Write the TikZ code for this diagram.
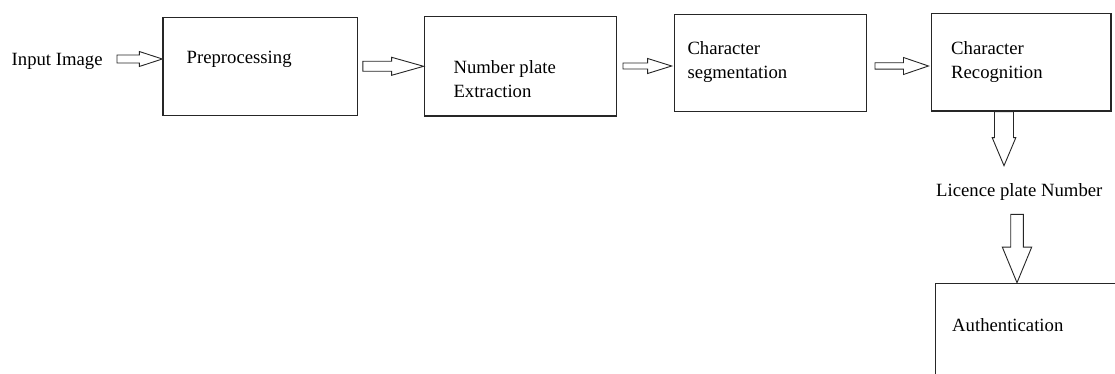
\documentclass[tikz,border=0pt]{standalone}
\usepackage{fontspec}
\setmainfont{Liberation Serif}
\usetikzlibrary{calc}
\tikzset{
  box/.style={draw=black!85, line width=1.3pt, minimum width=#1, inner sep=0pt},
  lbl/.style={anchor=base west, inner sep=0pt, font=\fontsize{18.7}{24}\selectfont},
  blk/.style={draw=black!85, line width=0.9pt, fill=white, line join=miter},
}
% horizontal hollow block arrow: start, tip, shaft half, head half, head length
\newcommand\harrow[5]{%
  \draw[blk] ($(#1)+(0,#3)$) -- ($(#2)+(-#5,#3)$) -- ($(#2)+(-#5,#4)$) -- (#2)
    -- ($(#2)+(-#5,-#4)$) -- ($(#2)+(-#5,-#3)$) -- ($(#1)+(0,-#3)$) -- cycle;}
% downward hollow block arrow (y axis points down)
\newcommand\varrow[5]{%
  \draw[blk] ($(#1)+(#3,0)$) -- ($(#2)+(#3,-#5)$) -- ($(#2)+(#4,-#5)$) -- (#2)
    -- ($(#2)+(-#4,-#5)$) -- ($(#2)+(-#3,-#5)$) -- ($(#1)+(-#3,0)$) -- cycle;}
\newcommand\twoline[2]{\vtop{\baselineskip=24pt\hbox{#1}\hbox{#2}}}
\begin{document}
\begin{tikzpicture}[x=1pt,y=-1pt]
\useasboundingbox (0,0) rectangle (1115,374);
\clip (0,0) rectangle (1115,374);

% boxes
\node[box=194.7pt, minimum height=98pt]   (pre)  at (260.3,66.3) {};
\node[box=192.4pt, minimum height=99.3pt] (np)   at (520.5,66.3) {};
\node[box=192.4pt, minimum height=97pt]   (seg)  at (770.5,63.2) {};
\node[box=179.3pt, minimum height=97.7pt] (rec)  at (1021.3,62.2) {};
\node[box=200pt,   minimum height=120pt, anchor=north west] (auth) at (934.7,282.7) {};

% texts
\node[lbl] (tin)   at (11.5,66)   {Input Image};
\node[lbl] (tpre)  at (186.5,64)  {Preprocessing};
\node[lbl] (tnp)   at (453.3,74)  {\twoline{Number plate}{Extraction}};
\node[lbl] (tseg)  at (687.3,55)  {\twoline{Character}{segmentation}};
\node[lbl] (trec)  at (951,55)    {\twoline{Character}{Recognition}};
\node[lbl] (tlic)  at (936,196)   {Licence plate Number};
\node[lbl] (tauth) at (952,331)   {Authentication};

% arrow anchor points
\coordinate (a1s) at (117,59);
\coordinate (a2s) at ($(pre.east)+(4.5,0)$);
\coordinate (a3s) at (623,66);
\coordinate (a4s) at (875,66);
\coordinate (a5s) at (1004,111.7);
\coordinate (a5t) at (1004,165.7);
\coordinate (a6s) at (1017,214.3);

\coordinate (a1t) at (a1s -| pre.west);
\coordinate (a2t) at (a2s -| np.west);
\coordinate (a3t) at ($(a3s -| seg.west)+(-2,0)$);
\coordinate (a4t) at ($(a4s -| rec.west)+(-2.5,0)$);
\coordinate (a6t) at (a6s |- auth.north);

\harrow{a1s}{a1t}{4}{7.5}{23}
\harrow{a2s}{a2t}{5}{9}{32}
\harrow{a3s}{a3t}{3}{7.5}{24}
\harrow{a4s}{a4t}{3.2}{8.5}{25}
\varrow{a5s}{a5t}{9.5}{11.8}{28}
\varrow{a6s}{a6t}{6.3}{14.7}{35.6}
\end{tikzpicture}
\end{document}
